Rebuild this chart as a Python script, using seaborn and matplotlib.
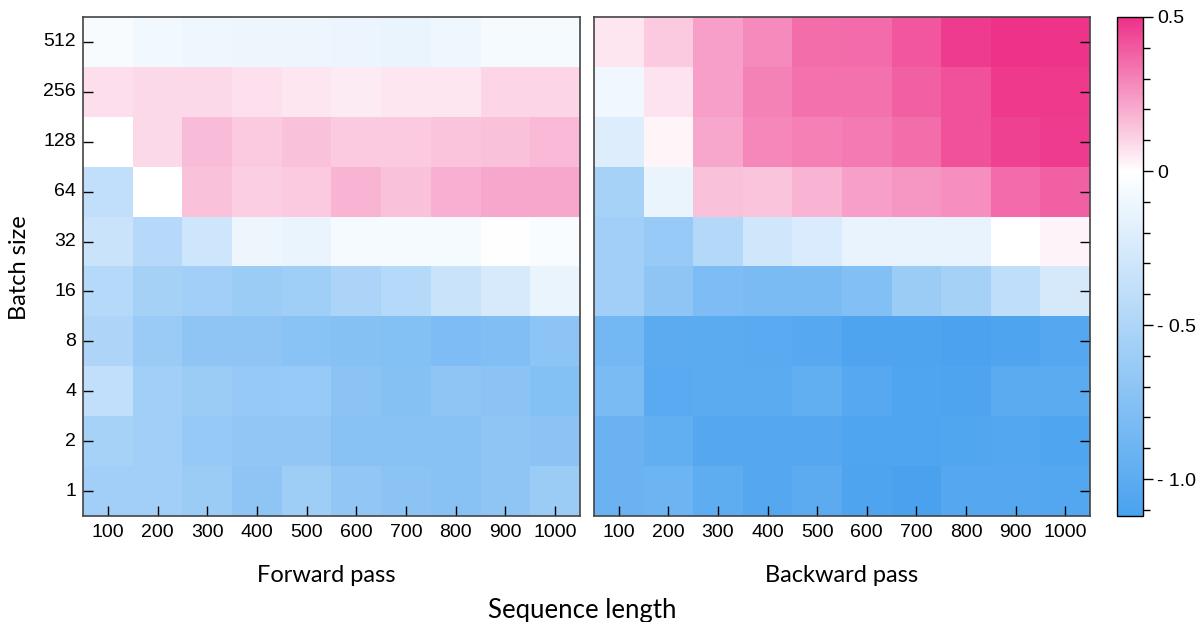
import numpy as np
import pandas as pd
import seaborn as sns
import matplotlib.pyplot as plt
from matplotlib import font_manager
from matplotlib.colors import LinearSegmentedColormap
from matplotlib.ticker import FixedLocator, MultipleLocator, FuncFormatter

# ---- data (rows listed from batch size 512 at the top down to 1) ----
seq_len = [100, 200, 300, 400, 500, 600, 700, 800, 900, 1000]
batch = [512, 256, 128, 64, 32, 16, 8, 4, 2, 1]

forward = [
    [-0.05, -0.08, -0.10, -0.11, -0.11, -0.12, -0.13, -0.10, -0.06, -0.06],
    [0.08, 0.09, 0.09, 0.07, 0.06, 0.05, 0.06, 0.06, 0.10, 0.10],
    [0.00, 0.09, 0.16, 0.13, 0.15, 0.13, 0.13, 0.14, 0.15, 0.17],
    [-0.38, 0.00, 0.15, 0.12, 0.13, 0.18, 0.15, 0.19, 0.21, 0.21],
    [-0.34, -0.45, -0.30, -0.11, -0.13, -0.06, -0.06, -0.06, -0.01, -0.04],
    [-0.46, -0.55, -0.58, -0.62, -0.59, -0.52, -0.46, -0.33, -0.25, -0.13],
    [-0.50, -0.63, -0.69, -0.69, -0.73, -0.75, -0.76, -0.80, -0.78, -0.71],
    [-0.38, -0.57, -0.62, -0.65, -0.64, -0.72, -0.75, -0.69, -0.72, -0.76],
    [-0.54, -0.57, -0.65, -0.68, -0.68, -0.74, -0.74, -0.74, -0.69, -0.72],
    [-0.58, -0.57, -0.62, -0.69, -0.60, -0.68, -0.72, -0.74, -0.69, -0.62],
]

backward = [
    [0.06, 0.13, 0.23, 0.28, 0.35, 0.36, 0.41, 0.47, 0.50, 0.49],
    [-0.09, 0.065, 0.23, 0.30, 0.34, 0.34, 0.38, 0.42, 0.48, 0.48],
    [-0.21, 0.02, 0.21, 0.29, 0.31, 0.32, 0.35, 0.42, 0.46, 0.47],
    [-0.54, -0.13, 0.15, 0.14, 0.18, 0.23, 0.25, 0.27, 0.36, 0.38],
    [-0.58, -0.64, -0.47, -0.29, -0.24, -0.14, -0.14, -0.14, 0.00, 0.03],
    [-0.58, -0.70, -0.80, -0.82, -0.81, -0.77, -0.62, -0.55, -0.40, -0.26],
    [-0.86, -1.00, -1.01, -1.02, -1.04, -1.09, -1.09, -1.11, -1.09, -1.05],
    [-0.81, -1.02, -1.01, -1.01, -0.98, -1.04, -1.08, -1.09, -1.01, -1.01],
    [-0.92, -0.98, -1.05, -1.05, -1.05, -1.08, -1.08, -1.07, -1.06, -1.08],
    [-0.92, -0.90, -0.99, -1.05, -1.00, -1.09, -1.12, -1.05, -1.05, -1.06],
]

vmin, vmax = -1.12, 0.5

# blue -> white (at 0) -> pink
z = (0 - vmin) / (vmax - vmin)
cmap = LinearSegmentedColormap.from_list(
    'bluepink', [(0, '#4aa2ef'), (z, '#ffffff'), (1, '#ee3189')])

df_fwd = pd.DataFrame(forward, index=batch, columns=seq_len)
df_bwd = pd.DataFrame(backward, index=batch, columns=seq_len)

# pick the regular (non-narrow) Liberation Sans file explicitly
arial_file = None
for f in font_manager.fontManager.ttflist:
    if (f.name == 'Liberation Sans' and f.style == 'normal'
            and f.weight in (400, 'normal', 'regular')
            and 'Narrow' not in f.fname):
        arial_file = f.fname
        break
if arial_file:
    tick_fp = font_manager.FontProperties(fname=arial_file, size=14)
else:
    tick_fp = font_manager.FontProperties(family='DejaVu Sans', size=13)

fig = plt.figure(figsize=(11.99, 6.22), dpi=100)
ax1 = fig.add_axes([0.0692, 0.1704, 0.4145, 0.8023])
ax2 = fig.add_axes([0.4954, 0.1704, 0.4137, 0.8023])
cax = fig.add_axes([0.9316, 0.1704, 0.0217, 0.8023])

sns.heatmap(df_fwd, ax=ax1, cmap=cmap, vmin=vmin, vmax=vmax, cbar=False)
sns.heatmap(df_bwd, ax=ax2, cmap=cmap, vmin=vmin, vmax=vmax, cbar_ax=cax)

for ax in (ax1, ax2):
    for s in ax.spines.values():
        s.set_visible(True)
        s.set_color('#444444')
        s.set_linewidth(1.2)
    ax.set_xlabel('')
    ax.set_ylabel('')
    ax.tick_params(axis='x', direction='in', length=7, width=1, pad=6)
    ax.set_xticklabels([str(v) for v in seq_len], rotation=0)
    for t in ax.get_xticklabels():
        t.set_fontproperties(tick_fp)

ax1.tick_params(axis='y', direction='in', length=7, width=1, pad=5)
ax1.set_yticklabels([str(v) for v in batch], rotation=0)
for t in ax1.get_yticklabels():
    t.set_fontproperties(tick_fp)
ax2.tick_params(axis='y', direction='in', length=7, width=1,
                left=False, right=True, labelleft=False)

# colorbar styling
cb = ax2.collections[0].colorbar
cb.outline.set_edgecolor('black')
cb.outline.set_linewidth(1)
cax.yaxis.set_major_locator(FixedLocator([-1.0, -0.5, 0.0, 0.5]))
cax.yaxis.set_minor_locator(MultipleLocator(0.1))


def cb_fmt(v, pos):
    if abs(v) < 1e-9:
        return '0'
    if v < 0:
        return '- %.1f' % abs(v)
    return '%.1f' % v


cax.yaxis.set_major_formatter(FuncFormatter(cb_fmt))
cax.tick_params(which='major', length=7, width=1, pad=3)
cax.tick_params(which='minor', length=5, width=1)
fig.canvas.draw()
for t in cax.get_yticklabels():
    t.set_fontproperties(tick_fp)

lab = ['Lato', 'DejaVu Sans']
fig.text(0.272, 0.0643, 'Forward pass', ha='center', va='baseline', fontsize=17, family=lab)
fig.text(0.702, 0.0643, 'Backward pass', ha='center', va='baseline', fontsize=17, family=lab)
fig.text(0.486, 0.0064, 'Sequence length', ha='center', va='baseline', fontsize=18.5, family=lab)
fig.text(0.016, 0.569, 'Batch size', ha='center', va='center', rotation=90,
         fontsize=17, family=lab)

fig.savefig('out.png', dpi=100)
